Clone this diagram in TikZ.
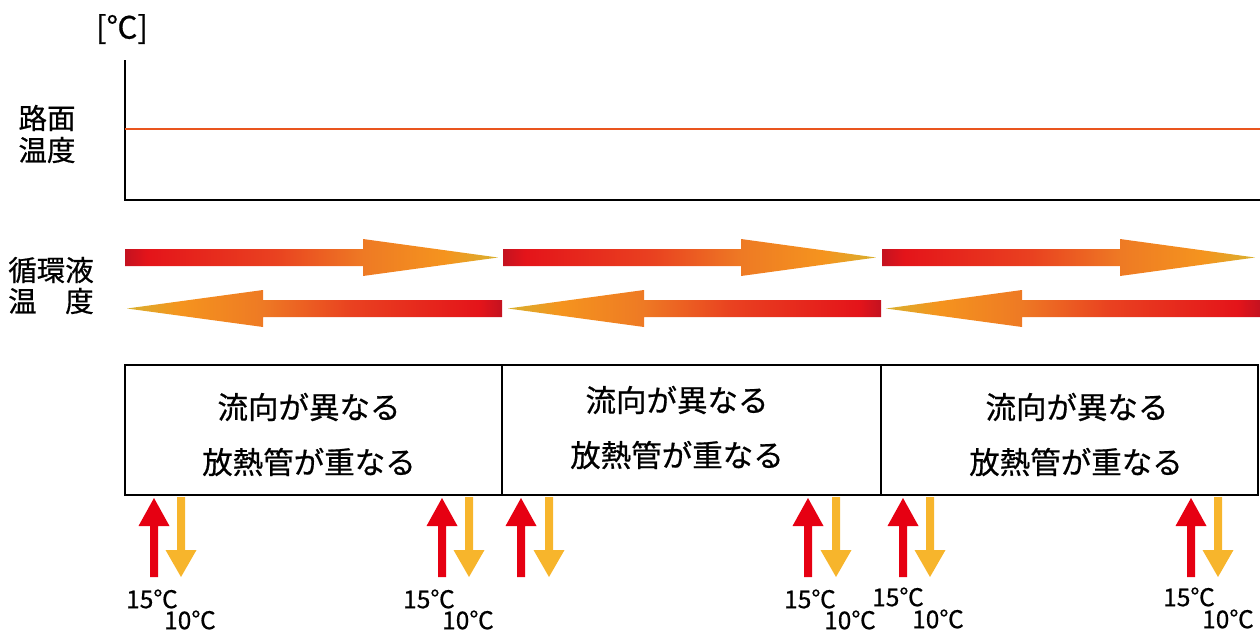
\documentclass[tikz,border=0pt]{standalone}
\usepackage{fontspec}
\setmainfont{Noto Sans CJK JP}[FakeBold=0.6]
\definecolor{cDark}{RGB}{196,18,32}
\definecolor{cRed}{RGB}{228,20,26}
\definecolor{cRedO}{RGB}{233,65,32}
\definecolor{cOrA}{RGB}{238,122,36}
\definecolor{cOrB}{RGB}{245,148,30}
\definecolor{cTip}{RGB}{216,176,48}
\definecolor{lineOr}{RGB}{233,85,30}
\definecolor{upRed}{RGB}{230,0,18}
\definecolor{downYel}{RGB}{247,181,44}
\pgfdeclarehorizontalshading{flowR}{100bp}{color(0bp)=(cDark); color(25bp)=(cDark); color(28bp)=(cRed); color(45bp)=(cRedO); color(57bp)=(cOrA); color(68bp)=(cOrB); color(75bp)=(cTip); color(100bp)=(cTip)}
\pgfdeclarehorizontalshading{flowL}{100bp}{color(0bp)=(cTip); color(25bp)=(cTip); color(32bp)=(cOrB); color(43bp)=(cOrA); color(55bp)=(cRedO); color(72bp)=(cRed); color(75bp)=(cDark); color(100bp)=(cDark)}
\newcommand{\rightflow}[2]{%
  \shade[shading=flowR] (#1,249) -- ({#2-135},249) -- ({#2-135},239) -- (#2,257.5) -- ({#2-135},276) -- ({#2-135},266) -- (#1,266) -- cycle;}
\newcommand{\leftflow}[2]{%
  \shade[shading=flowL] (#2,300) -- ({#1+136},300) -- ({#1+136},290) -- (#1,308.5) -- ({#1+136},327) -- ({#1+136},317) -- (#2,317) -- cycle;}
\tikzset{
  jp/.style={font=\fontsize{28.5}{34}\selectfont, inner sep=0pt},
  boxtxt/.style={font=\fontsize{30.5}{34}\selectfont, inner sep=0pt},
  tlabel/.style={font=\fontsize{24.5}{28}\selectfont, inner sep=0pt},
  upar/.pic={\fill[upRed] (0,0) -- (15.5,28) -- (4,28) -- (4,79) -- (-4,79) -- (-4,28) -- (-15.5,28) -- cycle;},
  downar/.pic={\fill[downYel] (-4,0) -- (4,0) -- (4,53) -- (15.5,53) -- (0,80) -- (-15.5,53) -- (-4,53) -- cycle;},
  boxline/.style={draw=black, line width=2pt}
}
\begin{document}
\begin{tikzpicture}[x=1pt,y=-1pt]
\useasboundingbox (0,0) rectangle (1260,635);
% axis
\node[jp, font=\fontsize{31}{34}\selectfont] (unit) at (122,29) {[℃]};
\draw[line width=2.5pt] (125,60) -- (125,200) -- (1260,200);
\draw[lineOr, line width=2pt] (125,128.5) -- (1260,128.5);
\node[jp] (road1) at (47,118) {路面};
\node[jp] (road2) at (47,150) {温度};
% fluid temperature
\node[jp] (liq1) at (51,270) {循環液};
\node[jp] (liq2) at (51,301) {温　度};
\rightflow{125}{498}
\rightflow{503}{876}
\rightflow{882}{1255}
\leftflow{127}{502}
\leftflow{508}{881}
\leftflow{886}{1260}
% boxes
\draw[boxline] (125,365) rectangle (502,495);
\draw[boxline] (502,365) rectangle (881,495);
\draw[boxline] (881,365) rectangle (1258,495);
\node[boxtxt] (b1a) at (309,407) {流向が異なる};
\node[boxtxt] (b1b) at (309,462) {放熱管が重なる};
\node[boxtxt] (b2a) at (677,400) {流向が異なる};
\node[boxtxt] (b2b) at (677,455) {放熱管が重なる};
\node[boxtxt] (b3a) at (1077,407) {流向が異なる};
\node[boxtxt] (b3b) at (1076,462) {放熱管が重なる};
% inlet/outlet arrows
\foreach \r/\yl in {154/181, 442/469, 521/549, 808/836, 903/930, 1191/1218}{
  \pic at (\r,498) {upar};
  \pic at (\yl,497) {downar};
}
\node[tlabel] (t1a) at (152,599) {15℃};
\node[tlabel] (t1b) at (190,620) {10℃};
\node[tlabel] (t2a) at (429,599) {15℃};
\node[tlabel] (t2b) at (468,620) {10℃};
\node[tlabel] (t4a) at (810,599) {15℃};
\node[tlabel] (t4b) at (850,620) {10℃};
\node[tlabel] (t5a) at (898,597) {15℃};
\node[tlabel] (t5b) at (938,619) {10℃};
\node[tlabel] (t6a) at (1189,597) {15℃};
\node[tlabel] (t6b) at (1228,619) {10℃};
\end{tikzpicture}
\end{document}
